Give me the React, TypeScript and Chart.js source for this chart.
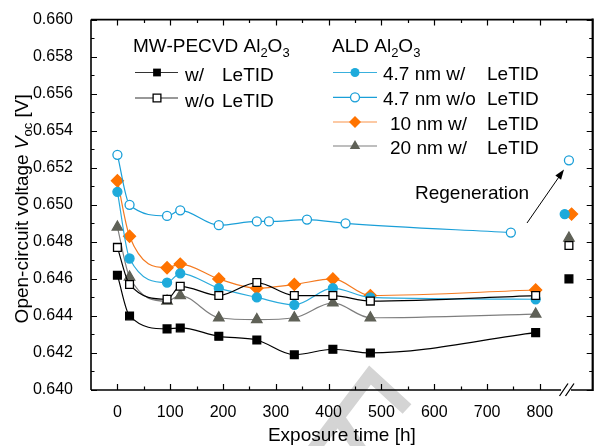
import React, { useEffect, useRef } from 'react';
import { Chart, registerables } from 'chart.js';
Chart.register(...registerables);

// ---- data ----
const timeMain = [0, 23, 94, 119, 192, 264, 335, 408, 479, 792];
const time47Wo = [0, 23, 94, 119, 192, 264, 287, 359, 432, 745];

const pecvdW = [0.6462, 0.6440, 0.6433, 0.64335, 0.6429, 0.6427, 0.6419, 0.6422, 0.6420, 0.6431];
const pecvdWo = [0.6477, 0.6457, 0.6449, 0.6456, 0.6451, 0.6458, 0.6451, 0.6451, 0.6448, 0.6451];
const ald47W = [0.6507, 0.6471, 0.6458, 0.6463, 0.6455, 0.6450, 0.6446, 0.6455, 0.6450, 0.6449];
const ald47Wo = [0.6527, 0.6500, 0.6494, 0.6497, 0.6489, 0.6491, 0.6491, 0.6492, 0.6490, 0.6485];
const ald10W = [0.6513, 0.6483, 0.6466, 0.6468, 0.6460, 0.6455, 0.6457, 0.6460, 0.6451, 0.6454];
const ald20W = [0.6488, 0.6461, 0.6448, 0.6451, 0.6439, 0.6438, 0.6439, 0.6447, 0.6439, 0.6441];

// regenerated values (after the axis break)
const regenTime = [855, 855, 847, 855, 860, 855];
const regenValue = [0.6460, 0.6478, 0.6495, 0.6524, 0.6495, 0.6482];

const xTickLabels = [0, 100, 200, 300, 400, 500, 600, 700, 800];
const yTickLabels = ['0.640', '0.642', '0.644', '0.646', '0.648', '0.650', '0.652', '0.654', '0.656', '0.658', '0.660'];

const FONT = '"Liberation Sans", Arial, Helvetica, sans-serif';
const BLACK = '#000000';
const BLUE_F = '#1EAADB';
const BLUE_O = '#1A9FD8';
const ORANGE = '#FF7300';
const GREY_M = '#5F6157';
const GREY_L = '#7E7E7E';

type Kind = 'sqFill' | 'sqOpen' | 'cirFill' | 'cirOpen' | 'diamond' | 'tri';

function drawMarker(ctx: CanvasRenderingContext2D, kind: Kind, x: number, y: number) {
  ctx.save();
  ctx.lineWidth = 1.3;
  ctx.beginPath();
  if (kind === 'sqFill' || kind === 'sqOpen') {
    const s = Math.SQRT1_2 * 5.5;
    ctx.rect(x - s, y - s, 2 * s, 2 * s);
    if (kind === 'sqFill') { ctx.fillStyle = BLACK; ctx.fill(); }
    else { ctx.fillStyle = '#fff'; ctx.fill(); ctx.strokeStyle = BLACK; ctx.stroke(); }
  } else if (kind === 'cirFill' || kind === 'cirOpen') {
    ctx.arc(x, y, 4.5, 0, Math.PI * 2);
    if (kind === 'cirFill') { ctx.fillStyle = BLUE_F; ctx.fill(); }
    else { ctx.fillStyle = '#fff'; ctx.fill(); ctx.strokeStyle = BLUE_O; ctx.stroke(); }
  } else if (kind === 'diamond') {
    const r = 6;
    ctx.moveTo(x, y - r); ctx.lineTo(x + r, y); ctx.lineTo(x, y + r); ctx.lineTo(x - r, y); ctx.closePath();
    ctx.fillStyle = ORANGE; ctx.fill();
  } else {
    const r = 6;
    ctx.moveTo(x, y - r);
    ctx.lineTo(x + r * Math.sin(2 * Math.PI / 3), y + r / 2);
    ctx.lineTo(x - r * Math.sin(2 * Math.PI / 3), y + r / 2);
    ctx.closePath();
    ctx.fillStyle = GREY_M; ctx.fill();
  }
  ctx.restore();
}

type Seg = { t: string; size: number; dy?: number; italic?: boolean };
function drawRich(ctx: CanvasRenderingContext2D, x: number, y: number, segs: Seg[], align: 'left' | 'center' = 'left') {
  ctx.save();
  ctx.textBaseline = 'alphabetic';
  ctx.textAlign = 'left';
  ctx.fillStyle = '#000';
  let total = 0;
  for (const s of segs) {
    ctx.font = `${s.italic ? 'italic ' : ''}${s.size}px ${FONT}`;
    total += ctx.measureText(s.t).width;
  }
  let cx = align === 'center' ? x - total / 2 : x;
  for (const s of segs) {
    ctx.font = `${s.italic ? 'italic ' : ''}${s.size}px ${FONT}`;
    ctx.fillText(s.t, cx, y + (s.dy || 0));
    cx += ctx.measureText(s.t).width;
  }
  ctx.restore();
}

const overlay = {
  id: 'overlay',
  beforeDraw(chart: any) {
    const ctx: CanvasRenderingContext2D = chart.ctx;
    ctx.save();
    ctx.strokeStyle = '#D4D4D4';
    ctx.lineWidth = 13;
    ctx.lineCap = 'butt';
    ctx.lineJoin = 'miter';
    ctx.beginPath();
    ctx.moveTo(310, 454);
    ctx.lineTo(370, 375);
    ctx.lineTo(407, 409);
    ctx.stroke();
    ctx.beginPath();
    ctx.moveTo(337, 416);
    ctx.lineTo(362, 452);
    ctx.stroke();
    ctx.restore();
  },
  afterDraw(chart: any) {
    const ctx: CanvasRenderingContext2D = chart.ctx;
    const { left, right, top, bottom } = chart.chartArea;
    const xs = chart.scales.x;
    const ys = chart.scales.y;
    ctx.save();
    ctx.strokeStyle = '#000';
    // ticks
    ctx.lineWidth = 1.2;
    ctx.beginPath();
    for (let v = 0; v <= 850; v += 50) {
      const px = Math.round(xs.getPixelForValue(v)) + 0.5;
      const len = v % 100 === 0 ? 6 : 3.5;
      if (v <= 800) { ctx.moveTo(px, bottom); ctx.lineTo(px, bottom - len); }
      ctx.moveTo(px, top); ctx.lineTo(px, top + len);
    }
    for (let i = 0; i <= 20; i++) {
      const v = 0.640 + i * 0.001;
      const py = Math.round(ys.getPixelForValue(v)) + 0.5;
      const len = i % 2 === 0 ? 6 : 3.5;
      ctx.moveTo(left, py); ctx.lineTo(left + len, py);
      ctx.moveTo(right, py); ctx.lineTo(right - len, py);
    }
    ctx.stroke();
    // frame
    ctx.lineWidth = 1.6;
    ctx.beginPath();
    ctx.moveTo(left, top); ctx.lineTo(right, top);
    ctx.moveTo(left, top); ctx.lineTo(left, bottom);
    ctx.moveTo(left, bottom); ctx.lineTo(561, bottom);
    ctx.moveTo(571, bottom); ctx.lineTo(right, bottom);
    ctx.stroke();
    ctx.lineWidth = 2.2;
    ctx.beginPath();
    ctx.moveTo(right, top - 1); ctx.lineTo(right, bottom + 1);
    ctx.stroke();
    // break marks
    ctx.lineWidth = 1.3;
    ctx.beginPath();
    ctx.moveTo(559.5, bottom + 6); ctx.lineTo(568, bottom - 6.5);
    ctx.moveTo(565.5, bottom + 6); ctx.lineTo(574, bottom - 6.5);
    ctx.stroke();

    // axis titles
    drawRich(ctx, (left + right) / 2, 441, [{ t: 'Exposure time [h]', size: 19 }], 'center');
    ctx.save();
    ctx.translate(28, (top + bottom) / 2 + 4);
    ctx.rotate(-Math.PI / 2);
    drawRich(ctx, 0, 0, [
      { t: 'Open-circuit voltage ', size: 19 },
      { t: 'V', size: 19, italic: true },
      { t: 'oc', size: 13, dy: 4 },
      { t: ' [V]', size: 19 },
    ], 'center');
    ctx.restore();

    // legend left
    drawRich(ctx, 133, 52, [
      { t: 'MW-PECVD Al', size: 19 },
      { t: '2', size: 13, dy: 5 },
      { t: 'O', size: 19 },
      { t: '3', size: 13, dy: 5 },
    ]);
    const leftRows: { kind: Kind; pre: string; y: number }[] = [
      { kind: 'sqFill', pre: 'w/', y: 72.5 },
      { kind: 'sqOpen', pre: 'w/o', y: 98 },
    ];
    for (const r of leftRows) {
      ctx.strokeStyle = '#333';
      ctx.lineWidth = 1.2;
      ctx.beginPath(); ctx.moveTo(135, r.y); ctx.lineTo(178, r.y); ctx.stroke();
      drawMarker(ctx, r.kind, 157, r.y);
      drawRich(ctx, 185, r.y + 8.5, [{ t: r.pre, size: 19 }]);
      drawRich(ctx, 222, r.y + 8.5, [{ t: 'LeTID', size: 19 }]);
    }
    // legend right
    drawRich(ctx, 332, 52, [
      { t: 'ALD Al', size: 19 },
      { t: '2', size: 13, dy: 5 },
      { t: 'O', size: 19 },
      { t: '3', size: 13, dy: 5 },
    ]);
    const rightRows: { kind: Kind; pre: string; px: number; y: number; col: string }[] = [
      { kind: 'cirFill', pre: '4.7 nm w/', px: 383, y: 72.5, col: '#39B0DD' },
      { kind: 'cirOpen', pre: '4.7 nm w/o', px: 383, y: 97.3, col: '#1A9FD8' },
      { kind: 'diamond', pre: '10 nm w/', px: 390, y: 122, col: '#F9944A' },
      { kind: 'tri', pre: '20 nm w/', px: 390, y: 146, col: '#7E7E7E' },
    ];
    for (const r of rightRows) {
      ctx.strokeStyle = r.col;
      ctx.lineWidth = 1.2;
      ctx.beginPath(); ctx.moveTo(333, r.y); ctx.lineTo(377, r.y); ctx.stroke();
      drawMarker(ctx, r.kind, 355, r.y);
      drawRich(ctx, r.px, r.y + 7.5, [{ t: r.pre, size: 19 }]);
      drawRich(ctx, 487, r.y + 7.5, [{ t: 'LeTID', size: 19 }]);
    }

    // regeneration annotation
    drawRich(ctx, 415, 199, [{ t: 'Regeneration', size: 19 }]);
    ctx.strokeStyle = '#000';
    ctx.fillStyle = '#000';
    ctx.lineWidth = 1;
    ctx.beginPath(); ctx.moveTo(527, 223); ctx.lineTo(561, 174); ctx.stroke();
    const ang = Math.atan2(171 - 223, 564 - 527);
    const tipX = 564, tipY = 169.5;
    ctx.beginPath();
    ctx.moveTo(tipX, tipY);
    ctx.lineTo(tipX - 10 * Math.cos(ang) + 3.5 * Math.sin(ang), tipY - 10 * Math.sin(ang) - 3.5 * Math.cos(ang));
    ctx.lineTo(tipX - 10 * Math.cos(ang) - 3.5 * Math.sin(ang), tipY - 10 * Math.sin(ang) + 3.5 * Math.cos(ang));
    ctx.closePath();
    ctx.fill();
    ctx.restore();
  },
};

function pts(xsArr: number[], ysArr: number[]) {
  return xsArr.map((x, i) => ({ x, y: ysArr[i] }));
}

export default function App() {
  const ref = useRef<HTMLCanvasElement>(null);
  useEffect(() => {
    document.body.style.margin = '0';
    const canvas = ref.current!;
    const lineBase = {
      showLine: true,
      borderWidth: 1.2,
      tension: 0.4,
      cubicInterpolationMode: 'monotone' as const,
      pointBorderWidth: 1.3,
    };
    const series = [
      { data: pts(timeMain, pecvdW), line: '#000', style: 'rect', r: 5.5, fill: BLACK, border: BLACK, order: 1 },
      { data: pts(timeMain, pecvdWo), line: '#000', style: 'rect', r: 5.5, fill: '#fff', border: BLACK, order: 2 },
      { data: pts(timeMain, ald47W), line: '#2AAADC', style: 'circle', r: 4.5, fill: BLUE_F, border: BLUE_F, order: 3 },
      { data: pts(time47Wo, ald47Wo), line: '#1A9FD8', style: 'circle', r: 4.5, fill: '#fff', border: BLUE_O, order: 4 },
      { data: pts(timeMain, ald10W), line: '#F47A20', style: 'rectRot', r: 6, fill: ORANGE, border: ORANGE, order: 5 },
      { data: pts(timeMain, ald20W), line: GREY_L, style: 'triangle', r: 6, fill: GREY_M, border: GREY_M, order: 6 },
    ];
    const datasets: any[] = [];
    series.forEach((s, i) => {
      datasets.push({
        ...lineBase,
        data: s.data,
        borderColor: s.line,
        pointStyle: s.style,
        pointRadius: s.r,
        pointBackgroundColor: s.fill,
        pointBorderColor: s.border,
        order: s.order,
      });
      datasets.push({
        data: [{ x: regenTime[i], y: regenValue[i] }],
        showLine: false,
        pointStyle: s.style,
        pointRadius: s.r,
        pointBorderWidth: 1.3,
        pointBackgroundColor: s.fill,
        pointBorderColor: s.border,
        order: s.order,
      });
    });
    const chart = new Chart(canvas, {
      type: 'scatter',
      data: { datasets },
      options: {
        animation: false,
        responsive: false,
        layout: { padding: { top: 15, right: 3, left: 0, bottom: 0 } },
        plugins: { legend: { display: false }, tooltip: { enabled: false } },
        scales: {
          x: {
            type: 'linear',
            min: -50,
            max: 900,
            grid: { display: false },
            border: { display: false },
            afterFit: (s: any) => { s.height = 56; },
            afterBuildTicks: (s: any) => { s.ticks = xTickLabels.map((v) => ({ value: v })); },
            ticks: {
              autoSkip: false,
              maxRotation: 0,
              padding: 5,
              color: '#000',
              font: { family: FONT, size: 16 },
              callback: (v: any) => String(v),
            },
          },
          y: {
            type: 'linear',
            min: 0.640,
            max: 0.660,
            grid: { display: false },
            border: { display: false },
            afterFit: (s: any) => { s.width = 91; },
            afterBuildTicks: (s: any) => { s.ticks = yTickLabels.map((v) => ({ value: Number(v) })); },
            ticks: {
              autoSkip: false,
              padding: 10,
              color: '#000',
              font: { family: FONT, size: 16 },
              callback: (v: any) => Number(v).toFixed(3),
            },
          },
        },
      },
      plugins: [overlay],
    } as any);
    return () => chart.destroy();
  }, []);
  return <canvas ref={ref} width={600} height={446} style={{ display: 'block' }} />;
}
